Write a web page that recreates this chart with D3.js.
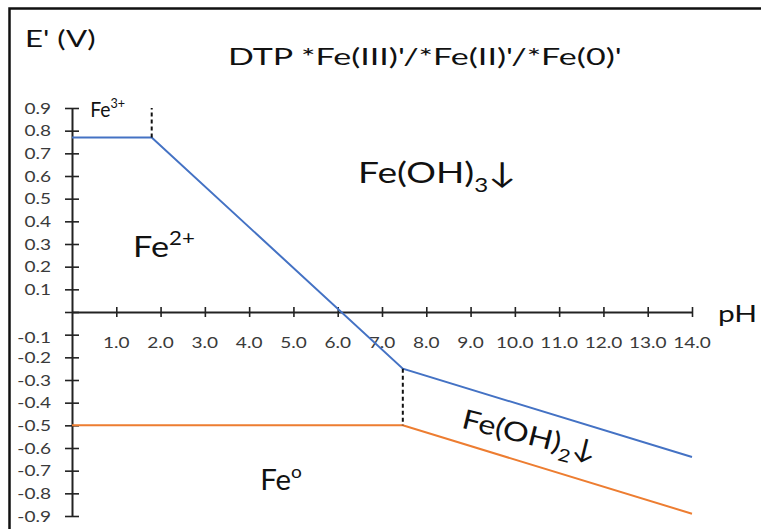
<!DOCTYPE html>
<html>
<head>
<meta charset="utf-8">
<script src="https://cdn.jsdelivr.net/npm/d3@7"></script>
<style>
  html, body { margin: 0; padding: 0; background: #fff; }
  svg { display: block; font-family: Lato, "Open Sans", sans-serif; }
  .tick-label { font-size: 15px; fill: #3a3a3a; }
</style>
</head>
<body>
<svg id="chart" width="761" height="529"></svg>
<script>
// pH ticks and potential ticks
const phTicks = [1, 2, 3, 4, 5, 6, 7, 8, 9, 10, 11, 12, 13, 14];
const eTicks = [-0.9, -0.8, -0.7, -0.6, -0.5, -0.4, -0.3, -0.2, -0.1, 0, 0.1, 0.2, 0.3, 0.4, 0.5, 0.6, 0.7, 0.8, 0.9];

// Fe(III)/Fe(II) boundary
const upperPh = [0, 1.8, 7.47, 14];
const upperE = [0.77, 0.77, -0.25, -0.64];

// Fe(II)/Fe(0) boundary
const lowerPh = [0, 7.47, 14];
const lowerE = [-0.5, -0.5, -0.89];

// vertical dashed boundaries
const dashPh = [1.8, 7.47];
const dashFrom = [0.77, -0.25];
const dashTo = [0.9, -0.5];

const WIDTH = 761;
const HEIGHT = 529;
const TICK_STRETCH = 1.27;

const svg = d3.select('#chart');

svg.append('rect')
    .attr('width', WIDTH)
    .attr('height', HEIGHT)
    .attr('fill', '#fff');

// frame (picture is cropped on the right / bottom)
svg.append('path')
    .attr('d', `M9.5,${HEIGHT} V8.5 H${WIDTH}`)
    .attr('fill', 'none')
    .attr('stroke', '#111')
    .attr('stroke-width', 2.5);

const x = d3.scaleLinear().domain([0, 14]).range([72, 692]);
const y = d3.scaleLinear().domain([-0.9, 0.9]).range([516, 108]);

// x axis along E = 0
const xAxis = svg.append('g')
    .attr('transform', `translate(0,${y(0)})`)
    .call(d3.axisBottom(x).tickValues(phTicks).tickSizeOuter(0).tickFormat(''));

xAxis.select('.domain').attr('stroke', '#222').attr('stroke-width', 2);
xAxis.selectAll('.tick line')
    .attr('y1', -5)
    .attr('y2', 5)
    .attr('stroke', '#222')
    .attr('stroke-width', 1.6);

svg.append('g')
    .selectAll('text')
    .data(phTicks)
    .enter()
    .append('text')
    .attr('class', 'tick-label')
    .attr('text-anchor', 'middle')
    .attr('transform', d => `translate(${x(d)},${y(0) + 36}) scale(${TICK_STRETCH},1)`)
    .text(d => d.toFixed(1));

// y axis at pH 0
const yAxis = svg.append('g')
    .attr('transform', `translate(${x(0)},0)`)
    .call(d3.axisLeft(y).tickValues(eTicks).tickSizeOuter(0).tickFormat(''));

yAxis.select('.domain').attr('stroke', '#222').attr('stroke-width', 2);
yAxis.selectAll('.tick line')
    .attr('x1', -7)
    .attr('x2', 7)
    .attr('stroke', '#222')
    .attr('stroke-width', 1.6);

svg.append('g')
    .selectAll('text')
    .data(eTicks.filter(d => d !== 0))
    .enter()
    .append('text')
    .attr('class', 'tick-label')
    .attr('text-anchor', 'end')
    .attr('transform', d => {
        // -0.1 is pushed down a little to clear the pH axis
        const dy = Math.abs(d + 0.1) < 1e-9 ? 3 : 0;
        return `translate(${x(0) - 21},${y(d) + 5.5 + dy}) scale(${TICK_STRETCH},1)`;
    })
    .text(d => d.toFixed(1));

// boundary lines
const line = d3.line().x(d => x(d[0])).y(d => y(d[1]));

svg.append('path')
    .attr('d', line(d3.zip(lowerPh, lowerE)))
    .attr('fill', 'none')
    .attr('stroke', '#ed7d31')
    .attr('stroke-width', 2);

svg.append('path')
    .attr('d', line(d3.zip(upperPh, upperE)))
    .attr('fill', 'none')
    .attr('stroke', '#4472c4')
    .attr('stroke-width', 2);

svg.append('g')
    .selectAll('line')
    .data(d3.range(dashPh.length))
    .enter()
    .append('line')
    .attr('x1', i => x(dashPh[i]))
    .attr('x2', i => x(dashPh[i]))
    .attr('y1', i => y(dashFrom[i]))
    .attr('y2', i => y(dashTo[i]))
    .attr('stroke', '#111')
    .attr('stroke-width', 2)
    .attr('stroke-dasharray', '4,3');

// text helper: horizontal stretch + optional rotation
function label(px, py, size, sx, parts, angle) {
    const t = svg.append('text')
        .attr('font-size', size)
        .attr('fill', '#111')
        .attr('transform', `translate(${px},${py}) rotate(${angle || 0}) scale(${sx},1)`);
    parts.forEach(p => {
        const s = t.append('tspan').text(p.text);
        if (p.sup) s.attr('font-size', size * 0.65).attr('dy', -size * 0.42);
        if (p.sub) s.attr('font-size', size * 0.65).attr('dy', size * 0.3);
        if (p.reset) s.attr('dy', p.reset * size);
    });
    return t;
}

// titles
label(25, 47, 24, 1.3, [{ text: "E' (V)" }]);
label(228, 65, 23, 1.48, [{ text: "DTP *Fe(III)'/*Fe(II)'/*Fe(0)'" }]);
label(718, 322, 23, 1.3, [{ text: 'pH' }]);

// species labels
label(x(0.41), y(0.86), 22, 0.88, [{ text: 'Fe' }, { text: '3+', sup: true }]);
label(x(1.38), y(0.242), 29, 1.18, [{ text: 'Fe' }, { text: '2+', sup: true }]);
label(x(6.46), y(0.568), 29, 1.28, [{ text: 'Fe(OH)' }, { text: '3', sub: true }, { text: '\u2193', reset: -0.3 }]);
label(x(4.25), y(-0.784), 28, 1.05, [{ text: 'Fe' }, { text: 'o', sup: true }]);
label(x(8.77), y(-0.51), 27, 1.2, [{ text: 'Fe(OH)' }, { text: '2', sub: true }, { text: '\u2193', reset: -0.3 }], 14);
</script>
</body>
</html>
